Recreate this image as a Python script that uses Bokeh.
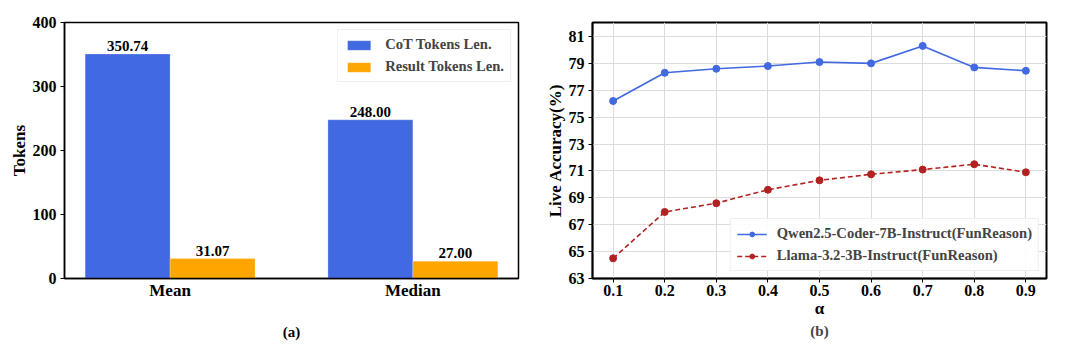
from bokeh.plotting import figure
from bokeh.layouts import row
from bokeh.models import Range1d, FixedTicker, Title, ColumnDataSource
from bokeh.core.properties import value
from bokeh.embed import file_html
from bokeh.resources import INLINE

# ---------------- data ----------------
categories = ["Mean", "Median"]
cot_tokens = [350.74, 248.00]
result_tokens = [31.07, 27.00]
bar_yticks = [0, 100, 200, 300, 400]

alphas = [0.1, 0.2, 0.3, 0.4, 0.5, 0.6, 0.7, 0.8, 0.9]
alpha_labels = ["0.1", "0.2", "0.3", "0.4", "0.5", "0.6", "0.7", "0.8", "0.9"]
qwen_acc = [76.2, 78.3, 78.6, 78.8, 79.1, 79.0, 80.3, 78.7, 78.45]
llama_acc = [64.5, 67.95, 68.6, 69.6, 70.3, 70.75, 71.1, 71.5, 70.9]
acc_yticks = [63, 65, 67, 69, 71, 73, 75, 77, 79, 81]

FONT = "Liberation Serif"
BLUE = "#4169E1"
ORANGE = "#FFA500"
RED = "#B22222"


def style_axes(p, tick_size="16px"):
    for ax in (p.xaxis, p.yaxis):
        ax.major_label_text_font = FONT
        ax.major_label_text_font_style = "bold"
        ax.major_label_text_font_size = tick_size
        ax.major_label_text_color = "black"
        ax.major_label_standoff = 4
        ax.axis_label_text_font = FONT
        ax.axis_label_text_font_style = "bold"
        ax.axis_label_text_font_size = "17px"
        ax.axis_label_text_color = "black"
        ax.major_tick_in = 0
        ax.major_tick_out = 4
        ax.major_tick_line_color = "black"
        ax.major_tick_line_width = 1
        ax.minor_tick_line_color = None
        ax.axis_line_color = "black"
        ax.axis_line_width = 1.5
    p.yaxis.axis_label_standoff = 1
    p.outline_line_color = "black"
    p.outline_line_width = 1.5
    p.outline_line_alpha = 1


# ---------------- (a) bar chart ----------------
pa = figure(width=536, height=356, output_backend="svg", toolbar_location=None,
            x_range=Range1d(-0.435, 1.435), y_range=Range1d(0, 400),
            min_border_left=64, min_border_right=18, min_border_top=22,
            min_border_bottom=78)
pa.xgrid.grid_line_color = None
pa.ygrid.grid_line_color = None

idx = list(range(len(categories)))
x_cot = [i - 0.175 for i in idx]
x_res = [i + 0.175 for i in idx]
src_cot = ColumnDataSource(dict(x=x_cot, top=cot_tokens,
                                lab=["%.2f" % v for v in cot_tokens]))
src_res = ColumnDataSource(dict(x=x_res, top=result_tokens,
                                lab=["%.2f" % v for v in result_tokens]))
pa.vbar(x="x", top="top", width=0.35, bottom=0, source=src_cot,
        fill_color=BLUE, line_color="white", line_width=0.5, line_alpha=0.5,
        legend_label="CoT Tokens Len.")
pa.vbar(x="x", top="top", width=0.35, bottom=0, source=src_res,
        fill_color=ORANGE, line_color="white", line_width=0.5, line_alpha=0.5,
        legend_label="Result Tokens Len.")
for s in (src_cot, src_res):
    pa.text(x="x", y="top", text="lab", source=s, text_align="center",
            text_baseline="bottom", y_offset=-3, text_font=value(FONT),
            text_font_style="bold", text_font_size="15px", text_color="black")

pa.xaxis.ticker = FixedTicker(ticks=idx)
pa.xaxis.major_label_overrides = {i: c for i, c in zip(idx, categories)}
pa.yaxis.ticker = FixedTicker(ticks=bar_yticks)
pa.yaxis.axis_label = "Tokens"
style_axes(pa)
pa.xaxis.major_label_text_font_size = "17px"
pa.xaxis.major_tick_out = 0
pa.xaxis.major_tick_line_color = None
pa.xaxis.major_label_standoff = 2
pa.xaxis.axis_label = "(a)"
pa.xaxis.axis_label_text_font_size = "15px"
pa.xaxis.axis_label_standoff = 21

lg = pa.legend[0]
lg.location = "top_right"
lg.margin = 7
lg.padding = 6
lg.spacing = 5
lg.glyph_width = 29
lg.glyph_height = 12
lg.label_standoff = 12
lg.label_text_font = FONT
lg.label_text_font_style = "bold"
lg.label_text_font_size = "14.6px"
lg.border_line_color = "#dddddd"
lg.border_line_width = 1
lg.background_fill_alpha = 0.9

# ---------------- (b) line chart ----------------
pb = figure(width=536, height=356, output_backend="svg", toolbar_location=None,
            x_range=Range1d(0.06, 0.94), y_range=Range1d(63, 82.04),
            min_border_left=56, min_border_right=26, min_border_top=22,
            min_border_bottom=78)
pb.xgrid.grid_line_color = "#dcdcdc"
pb.ygrid.grid_line_color = "#dcdcdc"
pb.xgrid.grid_line_width = 1
pb.ygrid.grid_line_width = 1

pb.line(alphas, qwen_acc, line_color=BLUE, line_width=1.6,
        legend_label="Qwen2.5-Coder-7B-Instruct(FunReason)")
pb.scatter(alphas, qwen_acc, size=7, fill_color=BLUE, line_color=BLUE,
           legend_label="Qwen2.5-Coder-7B-Instruct(FunReason)")
pb.line(alphas, llama_acc, line_color=RED, line_width=1.6, line_dash="5 3",
        legend_label="Llama-3.2-3B-Instruct(FunReason)")
pb.scatter(alphas, llama_acc, size=7, fill_color=RED, line_color=RED,
           legend_label="Llama-3.2-3B-Instruct(FunReason)")

pb.xaxis.ticker = FixedTicker(ticks=alphas)
pb.xaxis.major_label_overrides = {a: l for a, l in zip(alphas, alpha_labels)}
pb.yaxis.ticker = FixedTicker(ticks=acc_yticks)
pb.xaxis.axis_label = "α"
pb.yaxis.axis_label = "Live Accuracy(%)"
style_axes(pb)
pb.xaxis.major_label_standoff = 2
pb.xaxis.axis_label_standoff = 0
pb.outline_line_width = 2

lb = pb.legend[0]
lb.location = "bottom_right"
lb.margin = 7
lb.padding = 6
lb.spacing = 5
lb.glyph_width = 30
lb.glyph_height = 12
lb.label_standoff = 10
lb.label_text_font = FONT
lb.label_text_font_style = "bold"
lb.label_text_font_size = "14.6px"
lb.border_line_color = "#dddddd"
lb.border_line_width = 1
lb.background_fill_alpha = 0.9

pb.add_layout(Title(text="(b)", align="center", text_font=FONT,
                    text_font_style="bold", text_font_size="15px",
                    standoff=1), "below")

layout = row(pa, pb)
open("out.html", "w").write(file_html(layout, INLINE))
